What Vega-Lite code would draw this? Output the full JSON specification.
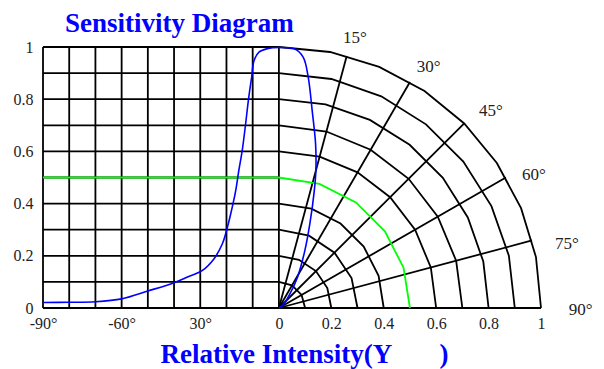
{
  "$schema": "https://vega.github.io/schema/vega-lite/v6.json",
  "width": 498,
  "height": 261,
  "autosize": {"type": "none"},
  "padding": {"left": 43, "top": 47, "right": 63, "bottom": 61},
  "background": "white",
  "title": {
    "text": "Sensitivity Diagram",
    "anchor": "start",
    "frame": "group",
    "font": "Liberation Serif",
    "fontSize": 27,
    "fontWeight": "bold",
    "color": "#0000ff",
    "dx": 22,
    "dy": 25,
    "offset": 16
  },
  "config": {"view": {"stroke": null}},
  "datasets": {
    "grid": [
      {"x": -0.9, "y": 0, "x2": -0.9, "y2": 1},
      {"x": -0.8, "y": 0, "x2": -0.8, "y2": 1},
      {"x": -0.7, "y": 0, "x2": -0.7, "y2": 1},
      {"x": -0.6, "y": 0, "x2": -0.6, "y2": 1},
      {"x": -0.5, "y": 0, "x2": -0.5, "y2": 1},
      {"x": -0.4, "y": 0, "x2": -0.4, "y2": 1},
      {"x": -0.3, "y": 0, "x2": -0.3, "y2": 1},
      {"x": -0.2, "y": 0, "x2": -0.2, "y2": 1},
      {"x": -0.1, "y": 0, "x2": -0.1, "y2": 1},
      {"x": 0, "y": 0, "x2": 0, "y2": 1},
      {"x": -0.9, "y": 0.1, "x2": 0, "y2": 0.1},
      {"x": -0.9, "y": 0.2, "x2": 0, "y2": 0.2},
      {"x": -0.9, "y": 0.3, "x2": 0, "y2": 0.3},
      {"x": -0.9, "y": 0.4, "x2": 0, "y2": 0.4},
      {"x": -0.9, "y": 0.5, "x2": 0, "y2": 0.5},
      {"x": -0.9, "y": 0.6, "x2": 0, "y2": 0.6},
      {"x": -0.9, "y": 0.7, "x2": 0, "y2": 0.7},
      {"x": -0.9, "y": 0.8, "x2": 0, "y2": 0.8},
      {"x": -0.9, "y": 0.9, "x2": 0, "y2": 0.9},
      {"x": -0.9, "y": 1.0, "x2": 0, "y2": 1.0},
      {"x": -0.9, "y": 0, "x2": 1.0, "y2": 0},
      {"x": 0, "y": 0, "x2": 0.2588, "y2": 0.9659},
      {"x": 0, "y": 0, "x2": 0.5, "y2": 0.866},
      {"x": 0, "y": 0, "x2": 0.7071, "y2": 0.7071},
      {"x": 0, "y": 0, "x2": 0.866, "y2": 0.5},
      {"x": 0, "y": 0, "x2": 0.9659, "y2": 0.2588}
    ],
    "rings": [
      {"r": 0.1, "i": 0, "x": 0, "y": 0.1},
      {"r": 0.1, "i": 1, "x": 0.05, "y": 0.0866},
      {"r": 0.1, "i": 2, "x": 0.0866, "y": 0.05},
      {"r": 0.1, "i": 3, "x": 0.1, "y": 0},
      {"r": 0.2, "i": 0, "x": 0, "y": 0.2},
      {"r": 0.2, "i": 1, "x": 0.0765, "y": 0.1848},
      {"r": 0.2, "i": 2, "x": 0.1414, "y": 0.1414},
      {"r": 0.2, "i": 3, "x": 0.1848, "y": 0.0765},
      {"r": 0.2, "i": 4, "x": 0.2, "y": 0},
      {"r": 0.3, "i": 0, "x": 0, "y": 0.3},
      {"r": 0.3, "i": 1, "x": 0.1148, "y": 0.2772},
      {"r": 0.3, "i": 2, "x": 0.2121, "y": 0.2121},
      {"r": 0.3, "i": 3, "x": 0.2772, "y": 0.1148},
      {"r": 0.3, "i": 4, "x": 0.3, "y": 0},
      {"r": 0.4, "i": 0, "x": 0, "y": 0.4},
      {"r": 0.4, "i": 1, "x": 0.1236, "y": 0.3804},
      {"r": 0.4, "i": 2, "x": 0.2351, "y": 0.3236},
      {"r": 0.4, "i": 3, "x": 0.3236, "y": 0.2351},
      {"r": 0.4, "i": 4, "x": 0.3804, "y": 0.1236},
      {"r": 0.4, "i": 5, "x": 0.4, "y": 0},
      {"r": 0.6, "i": 0, "x": 0, "y": 0.6},
      {"r": 0.6, "i": 1, "x": 0.1553, "y": 0.5796},
      {"r": 0.6, "i": 2, "x": 0.3, "y": 0.5196},
      {"r": 0.6, "i": 3, "x": 0.4243, "y": 0.4243},
      {"r": 0.6, "i": 4, "x": 0.5196, "y": 0.3},
      {"r": 0.6, "i": 5, "x": 0.5796, "y": 0.1553},
      {"r": 0.6, "i": 6, "x": 0.6, "y": 0},
      {"r": 0.7, "i": 0, "x": 0, "y": 0.7},
      {"r": 0.7, "i": 1, "x": 0.1812, "y": 0.6762},
      {"r": 0.7, "i": 2, "x": 0.35, "y": 0.6062},
      {"r": 0.7, "i": 3, "x": 0.495, "y": 0.495},
      {"r": 0.7, "i": 4, "x": 0.6062, "y": 0.35},
      {"r": 0.7, "i": 5, "x": 0.6762, "y": 0.1812},
      {"r": 0.7, "i": 6, "x": 0.7, "y": 0},
      {"r": 0.8, "i": 0, "x": 0, "y": 0.8},
      {"r": 0.8, "i": 1, "x": 0.178, "y": 0.7799},
      {"r": 0.8, "i": 2, "x": 0.3471, "y": 0.7208},
      {"r": 0.8, "i": 3, "x": 0.4988, "y": 0.6255},
      {"r": 0.8, "i": 4, "x": 0.6255, "y": 0.4988},
      {"r": 0.8, "i": 5, "x": 0.7208, "y": 0.3471},
      {"r": 0.8, "i": 6, "x": 0.7799, "y": 0.178},
      {"r": 0.8, "i": 7, "x": 0.8, "y": 0},
      {"r": 0.9, "i": 0, "x": 0, "y": 0.9},
      {"r": 0.9, "i": 1, "x": 0.2003, "y": 0.8774},
      {"r": 0.9, "i": 2, "x": 0.3905, "y": 0.8109},
      {"r": 0.9, "i": 3, "x": 0.5611, "y": 0.7036},
      {"r": 0.9, "i": 4, "x": 0.7036, "y": 0.5611},
      {"r": 0.9, "i": 5, "x": 0.8109, "y": 0.3905},
      {"r": 0.9, "i": 6, "x": 0.8774, "y": 0.2003},
      {"r": 0.9, "i": 7, "x": 0.9, "y": 0},
      {"r": 1.0, "i": 0, "x": 0, "y": 1.0},
      {"r": 1.0, "i": 1, "x": 0.1951, "y": 0.9808},
      {"r": 1.0, "i": 2, "x": 0.3827, "y": 0.9239},
      {"r": 1.0, "i": 3, "x": 0.5556, "y": 0.8315},
      {"r": 1.0, "i": 4, "x": 0.7071, "y": 0.7071},
      {"r": 1.0, "i": 5, "x": 0.8315, "y": 0.5556},
      {"r": 1.0, "i": 6, "x": 0.9239, "y": 0.3827},
      {"r": 1.0, "i": 7, "x": 0.9808, "y": 0.1951},
      {"r": 1.0, "i": 8, "x": 1.0, "y": 0}
    ],
    "half": [
      {"i": 0, "x": -0.9, "y": 0.5},
      {"i": 1, "x": 0, "y": 0.5},
      {"i": 2, "x": 0.1545, "y": 0.4755},
      {"i": 3, "x": 0.2939, "y": 0.4045},
      {"i": 4, "x": 0.4045, "y": 0.2939},
      {"i": 5, "x": 0.4755, "y": 0.1545},
      {"i": 6, "x": 0.5, "y": 0}
    ],
    "sensitivity": [
      {"i": 0, "x": -0.9, "y": 0.021},
      {"i": 1, "x": -0.8, "y": 0.022},
      {"i": 2, "x": -0.7, "y": 0.024},
      {"i": 3, "x": -0.6, "y": 0.035},
      {"i": 4, "x": -0.5, "y": 0.065},
      {"i": 5, "x": -0.4, "y": 0.097},
      {"i": 6, "x": -0.344, "y": 0.121},
      {"i": 7, "x": -0.293, "y": 0.143},
      {"i": 8, "x": -0.248, "y": 0.188},
      {"i": 9, "x": -0.216, "y": 0.245},
      {"i": 10, "x": -0.2, "y": 0.296},
      {"i": 11, "x": -0.184, "y": 0.36},
      {"i": 12, "x": -0.165, "y": 0.449},
      {"i": 13, "x": -0.153, "y": 0.526},
      {"i": 14, "x": -0.14, "y": 0.603},
      {"i": 15, "x": -0.127, "y": 0.705},
      {"i": 16, "x": -0.115, "y": 0.807},
      {"i": 17, "x": -0.104, "y": 0.884},
      {"i": 18, "x": -0.095, "y": 0.947},
      {"i": 19, "x": -0.076, "y": 0.98},
      {"i": 20, "x": -0.045, "y": 0.993},
      {"i": 21, "x": 0, "y": 0.998},
      {"i": 22, "x": 0.061, "y": 0.992},
      {"i": 23, "x": 0.093, "y": 0.96},
      {"i": 24, "x": 0.112, "y": 0.884},
      {"i": 25, "x": 0.127, "y": 0.756},
      {"i": 26, "x": 0.14, "y": 0.628},
      {"i": 27, "x": 0.141, "y": 0.526},
      {"i": 28, "x": 0.135, "y": 0.449},
      {"i": 29, "x": 0.118, "y": 0.322},
      {"i": 30, "x": 0.099, "y": 0.22},
      {"i": 31, "x": 0.071, "y": 0.118},
      {"i": 32, "x": 0.042, "y": 0.054},
      {"i": 33, "x": 0.016, "y": 0.012},
      {"i": 34, "x": 0, "y": 0}
    ],
    "angles": [
      {"t": "15°", "x": 0.29, "y": 1.033},
      {"t": "30°", "x": 0.571, "y": 0.925},
      {"t": "45°", "x": 0.809, "y": 0.755},
      {"t": "60°", "x": 0.973, "y": 0.51},
      {"t": "75°", "x": 1.099, "y": 0.245},
      {"t": "90°", "x": 1.151, "y": -0.008}
    ]
  },
  "encoding": {
    "x": {
      "field": "x",
      "type": "quantitative",
      "scale": {"domain": [-0.9, 1.0], "nice": false, "zero": false},
      "axis": {
        "values": [-0.9, -0.6, -0.3, 0, 0.2, 0.4, 0.6, 0.8, 1],
        "labelExpr": "datum.value < -0.85 ? '-90°' : datum.value < -0.5 ? '-60°' : datum.value < -0.1 ? '30°' : format(datum.value, '~g')",
        "domain": false,
        "ticks": false,
        "grid": false,
        "labelFlush": false,
        "labelOverlap": false,
        "labelFont": "Liberation Serif",
        "labelFontSize": 16,
        "labelColor": "#222222",
        "labelPadding": 7,
        "title": "Relative Intensity(Y\u00a0\u00a0\u00a0\u00a0\u00a0\u00a0\u00a0)",
        "titleFont": "Liberation Serif",
        "titleFontSize": 27,
        "titleFontWeight": "bold",
        "titleColor": "#0000ff",
        "titleAlign": "left",
        "titleAnchor": "start",
        "titleBaseline": "alphabetic",
        "titleX": 117,
        "titleY": 54
      }
    },
    "y": {
      "field": "y",
      "type": "quantitative",
      "scale": {"domain": [0, 1], "nice": false, "zero": false},
      "axis": {
        "values": [0, 0.2, 0.4, 0.6, 0.8, 1],
        "labelExpr": "format(datum.value, '~g')",
        "domain": false,
        "ticks": false,
        "grid": false,
        "labelFlush": false,
        "labelOverlap": false,
        "labelFont": "Liberation Serif",
        "labelFontSize": 16,
        "labelColor": "#222222",
        "labelPadding": 10,
        "title": null
      }
    }
  },
  "layer": [
    {
      "data": {"name": "grid"},
      "mark": {"type": "rule", "color": "#000000", "strokeWidth": 1.8},
      "encoding": {
        "x2": {"field": "x2"},
        "y2": {"field": "y2"}
      }
    },
    {
      "data": {"name": "rings"},
      "mark": {"type": "line", "color": "#000000", "strokeWidth": 1.8},
      "encoding": {
        "detail": {"field": "r", "type": "nominal"},
        "order": {"field": "i", "type": "quantitative"}
      }
    },
    {
      "data": {"name": "half"},
      "mark": {"type": "line", "color": "#00ff00", "strokeWidth": 1.8},
      "encoding": {
        "order": {"field": "i", "type": "quantitative"}
      }
    },
    {
      "data": {"name": "sensitivity"},
      "mark": {"type": "line", "color": "#0000ff", "strokeWidth": 1.6, "interpolate": "catmull-rom"},
      "encoding": {
        "order": {"field": "i", "type": "quantitative"}
      }
    },
    {
      "data": {"name": "angles"},
      "mark": {"type": "text", "font": "Liberation Serif", "fontSize": 17, "color": "#222222", "align": "center", "baseline": "middle"},
      "encoding": {
        "text": {"field": "t", "type": "nominal"}
      }
    }
  ]
}
